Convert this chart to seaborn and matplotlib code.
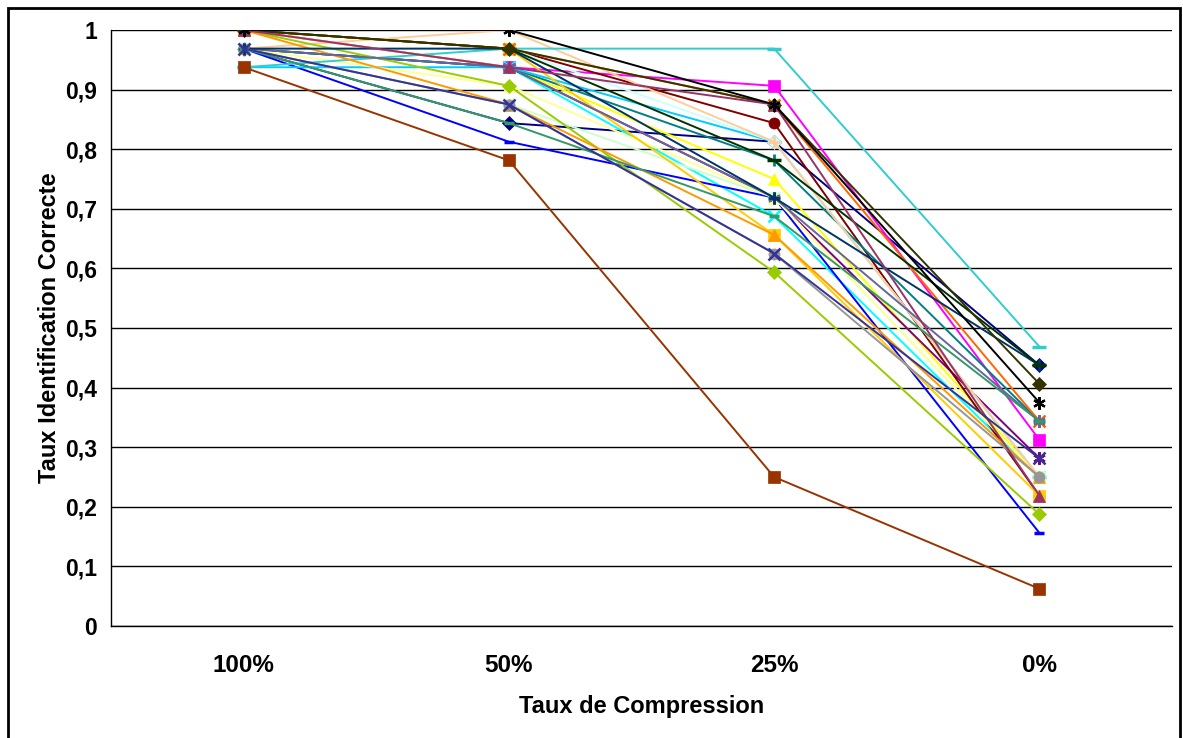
import matplotlib
matplotlib.use("Agg")
import matplotlib.pyplot as plt
from matplotlib.patches import Rectangle
import numpy as np
import pandas as pd
import seaborn as sns

# Compression levels (x categories)
levels = ["100%", "50%", "25%", "0%"]

# Correct identification rate per speaker, one list per series
s01 = [0.96875, 0.84375, 0.8125, 0.4375]
s02 = [1.0, 0.9375, 0.90625, 0.3125]
s03 = [1.0, 0.9375, 0.75, 0.25]
s04 = [0.96875, 0.9375, 0.6875, 0.25]
s05 = [0.96875, 0.9375, 0.71875, 0.28125]
s06 = [1.0, 0.96875, 0.84375, 0.21875]
s07 = [0.96875, 0.9375, 0.78125, 0.34375]
s08 = [0.96875, 0.8125, 0.71875, 0.15625]
s09 = [0.9375, 0.9375, 0.8125, 0.25]
s10 = [0.96875, 0.96875, 0.8125, 0.25]
s11 = [0.96875, 0.875, 0.71875, 0.25]
s12 = [0.96875, 0.90625, 0.71875, 0.25]
s16 = [0.96875, 1.0, 0.8125, 0.25]
s18 = [0.9375, 0.96875, 0.96875, 0.46875]
s19 = [1.0, 0.90625, 0.59375, 0.1875]
s20 = [1.0, 0.96875, 0.65625, 0.21875]
s21 = [1.0, 0.875, 0.65625, 0.25]
s22 = [1.0, 0.96875, 0.875, 0.34375]
s23 = [0.96875, 0.9375, 0.71875, 0.34375]
s24 = [0.96875, 0.875, 0.625, 0.25]
s25 = [0.96875, 0.96875, 0.71875, 0.4375]
s26 = [0.96875, 0.84375, 0.6875, 0.34375]
s27 = [1.0, 0.96875, 0.78125, 0.4375]
s28 = [1.0, 0.96875, 0.875, 0.40625]
s29 = [0.9375, 0.78125, 0.25, 0.0625]
s30 = [1.0, 0.9375, 0.875, 0.21875]
s31 = [0.96875, 0.875, 0.625, 0.28125]
s32 = [1.0, 1.0, 0.875, 0.375]

series = {
    "L01": s01, "L02": s02, "L03": s03, "L04": s04, "L05": s05, "L06": s06,
    "L07": s07, "L08": s08, "L09": s09, "L10": s10, "L11": s11, "L12": s12,
    "L16": s16, "L18": s18, "L19": s19, "L20": s20, "L21": s21, "L22": s22,
    "L23": s23, "L24": s24, "L25": s25, "L26": s26, "L27": s27, "L28": s28,
    "L29": s29, "L30": s30, "L31": s31, "L32": s32,
}

# Line colour and marker style for each series
colors = {
    "L01": "#000080", "L02": "#FF00FF", "L03": "#FFFF00", "L04": "#00FFFF",
    "L05": "#800080", "L06": "#800000", "L07": "#008080", "L08": "#0000FF",
    "L09": "#00CCFF", "L10": "#CCFFFF", "L11": "#CCFFCC", "L12": "#FFFF99",
    "L16": "#FFCC99", "L18": "#33CCCC", "L19": "#99CC00", "L20": "#FFCC00",
    "L21": "#FF9900", "L22": "#FF6600", "L23": "#666699", "L24": "#969696",
    "L25": "#003366", "L26": "#339966", "L27": "#003300", "L28": "#333300",
    "L29": "#993300", "L30": "#993366", "L31": "#333399", "L32": "#000000",
}
asterisk = (6, 2, 0)
marker_kind = {
    "L01": "D", "L02": "s", "L03": "^", "L04": "x", "L05": asterisk,
    "L06": "o", "L07": "+", "L08": "short", "L09": "long", "L10": "D",
    "L11": "s", "L12": "^", "L16": "+", "L18": "long", "L19": "D",
    "L20": "s", "L21": "^", "L22": "x", "L23": asterisk, "L24": "o",
    "L25": "+", "L26": "short", "L27": "long", "L28": "D", "L29": "s",
    "L30": "^", "L31": "x", "L32": asterisk,
}

rows = []
for name, vals in series.items():
    for lvl, v in zip(levels, vals):
        rows.append({"serie": name, "niveau": lvl, "taux": v})
df = pd.DataFrame(rows)

sns.set_style("white")
plt.rcParams["font.family"] = ["Liberation Sans", "DejaVu Sans"]
plt.rcParams["font.weight"] = "bold"
plt.rcParams["text.color"] = "black"
plt.rcParams["axes.labelcolor"] = "black"
plt.rcParams["xtick.color"] = "black"
plt.rcParams["ytick.color"] = "black"

fig = plt.figure(figsize=(11.83, 7.38), dpi=100)
ax = fig.add_axes([111 / 1183, 1 - 626 / 738, 1061 / 1183, 596 / 738])

for name in series:
    kind = marker_kind[name]
    if kind == "short":
        m = "_"
        kw = dict(markersize=6.5, markeredgewidth=2.5)
    elif kind == "long":
        m = "_"
        kw = dict(markersize=10.5, markeredgewidth=2.5)
    elif kind == "x":
        m = "x"
        kw = dict(markersize=8, markeredgewidth=1.8)
    elif kind == "+":
        m = "+"
        kw = dict(markersize=9, markeredgewidth=2.0)
    elif kind == asterisk:
        m = asterisk
        kw = dict(markersize=9, markeredgewidth=1.6)
    elif kind == "^":
        m = "^"
        kw = dict(markersize=8.5, markeredgewidth=0.5)
    elif kind == "D":
        m = "D"
        kw = dict(markersize=7, markeredgewidth=0.5)
    else:
        m = kind
        kw = dict(markersize=8, markeredgewidth=0.5)
    c = colors[name]
    sns.lineplot(
        data=df[df["serie"] == name], x="niveau", y="taux", ax=ax,
        color=c, marker=m, markeredgecolor=c, markerfacecolor=c,
        linewidth=1.4, legend=False, errorbar=None, sort=False, **kw,
    )

ax.set_xlim(-0.5, 3.5)
ax.set_ylim(0, 1)

yt = np.round(np.arange(0, 1.01, 0.1), 1)
ax.set_yticks(yt)
ax.set_yticklabels(["0" if v == 0 else "1" if v == 1 else f"{v:.1f}".replace(".", ",") for v in yt])
ax.yaxis.grid(True, color="black", linewidth=1.0)
ax.set_axisbelow(True)

# category boundaries as major ticks, category names as minor tick labels
ax.set_xticks([-0.5, 0.5, 1.5, 2.5, 3.5])
ax.set_xticklabels([])
ax.set_xticks(range(len(levels)), minor=True)
ax.set_xticklabels(levels, minor=True)
ax.tick_params(axis="x", which="major", direction="out", length=6, width=1, color="black")
ax.tick_params(axis="x", which="minor", length=0, pad=20, labelsize=17.5, labelcolor="black")
ax.tick_params(axis="y", direction="out", length=6, width=1, color="black",
               labelsize=16.5, pad=4, labelcolor="black")

for side in ["top", "right"]:
    ax.spines[side].set_visible(False)
for side in ["left", "bottom"]:
    ax.spines[side].set_color("black")
    ax.spines[side].set_linewidth(1.0)

ax.set_xlabel("Taux de Compression", fontsize=17, fontweight="bold", labelpad=13, color="black")
ax.set_ylabel("Taux Identification Correcte", fontsize=17, fontweight="bold", labelpad=3, color="black")

fig.patches.append(Rectangle((8 / 1183, -0.05), 1172 / 1183, 1.05 - 8 / 738,
                             transform=fig.transFigure, fill=False,
                             edgecolor="black", linewidth=2))

fig.savefig("out.png", dpi=100)
